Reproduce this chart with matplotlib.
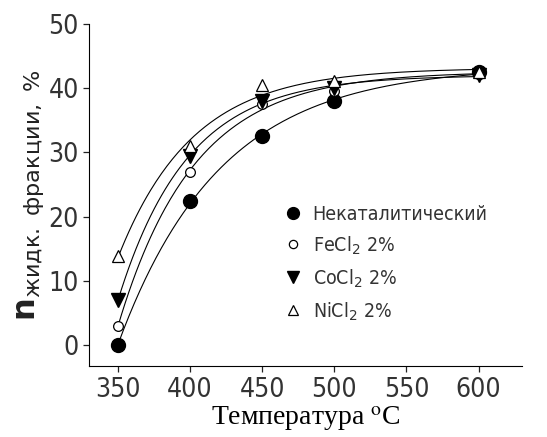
import numpy as np
import matplotlib.pyplot as plt

# Data
temps = [350, 400, 450, 500, 600]
noncat = [0.0, 22.5, 32.5, 38.0, 42.5]
fecl2 = [3.0, 27.0, 37.5, 39.5, 42.5]
cocl2 = [7.0, 29.5, 38.0, 40.0, 42.0]
nicl2 = [13.8, 31.0, 40.5, 41.2, 42.5]


def fit_curve(x, y):
    # y = a - b*exp(-k*(x-350)), k picked by grid, a,b by least squares
    x = np.asarray(x, float)
    y = np.asarray(y, float)
    best = None
    for k in np.linspace(0.002, 0.08, 400):
        e = np.exp(-k * (x - 350))
        A = np.column_stack([np.ones_like(e), -e])
        coef, *_ = np.linalg.lstsq(A, y, rcond=None)
        err = np.sum((A @ coef - y) ** 2)
        if best is None or err < best[0]:
            best = (err, k, coef)
    _, k, (a, b) = best
    xs = np.linspace(x.min(), x.max(), 200)
    return xs, a - b * np.exp(-k * (xs - 350))


fig = plt.figure(figsize=(5.47, 4.37), dpi=100)
ax = fig.add_axes([0.163, 0.162, 0.791, 0.783])

series = [
    (noncat, dict(marker='o', mfc='black', mec='black', ms=10), 'Некаталитический'),
    (fecl2, dict(marker='o', mfc='white', mec='black', ms=7, mew=0.9), 'FeCl$_2$ 2%'),
    (cocl2, dict(marker='v', mfc='black', mec='black', ms=10), 'CoCl$_2$ 2%'),
    (nicl2, dict(marker='^', mfc='white', mec='black', ms=9, mew=0.9), 'NiCl$_2$ 2%'),
]

for vals, style, lab in series:
    xs, ys = fit_curve(temps, vals)
    ax.plot(xs, ys, color='black', lw=0.8, zorder=1)
    ax.plot(temps, vals, ls='none', label=lab, zorder=3, **style)

ax.set_xlim(330, 630)
ax.set_ylim(-3.3, 50)
ax.set_xticks([350, 400, 450, 500, 550, 600])
ax.set_yticks([0, 10, 20, 30, 40, 50])
ax.spines['top'].set_visible(False)
ax.spines['right'].set_visible(False)
ax.tick_params(direction='out', length=4, width=0.9, labelsize=19, colors='#222222')
for t in ax.get_xticklabels() + ax.get_yticklabels():
    t.set_fontstretch('condensed')
    t.set_color('#333333')

ax.set_xlabel('Температура $^{\\mathrm{o}}$C', family='Liberation Serif',
              fontsize=20, math_fontfamily='stix', labelpad=1)
ax.set_ylabel('$\\mathbf{n}_{\\mathrm{жидк.\\ фракции,\\ \\%}}$', fontsize=23,
              labelpad=2, color='#222222')

leg = ax.legend(loc='center', bbox_to_anchor=(0.685, 0.30), frameon=False,
                handletextpad=0.5, labelspacing=0.55, handlelength=1.0,
                markerscale=0.85, prop={'size': 14, 'stretch': 'condensed'})
for t in leg.get_texts():
    t.set_color('#333333')

plt.savefig('out.png', dpi=100)
